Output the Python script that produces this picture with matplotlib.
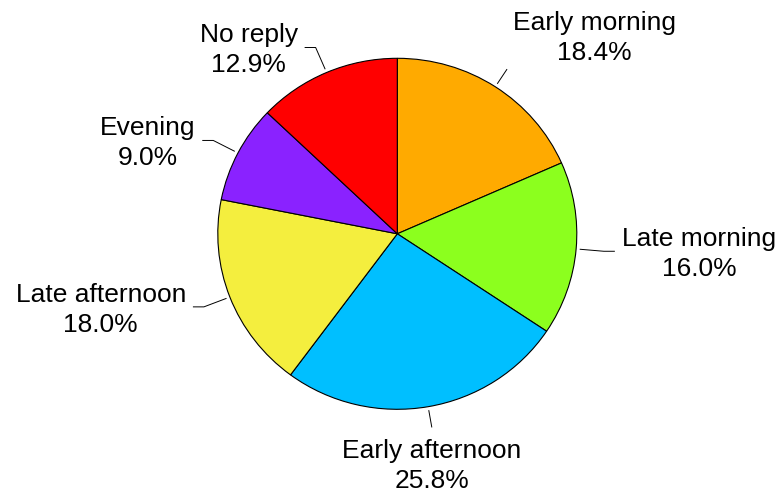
import numpy as np
import matplotlib.pyplot as plt

labels = ["Early morning", "Late morning", "Early afternoon",
          "Late afternoon", "Evening", "No reply"]
shares = [18.4, 16.0, 25.8, 18.0, 9.0, 12.9]
colors = ["#FFAA00", "#8CFF1E", "#00BFFF", "#F4EE3E", "#8A22FF", "#FF0000"]

# how each label sits relative to its leader line
placement = ["above", "side", "below", "side", "side", "side"]

W, H = 781, 495
cx, cy = 397.3, 233.8      # pie centre, px from top-left
rx, ry = 179.5, 175.5      # pie radius in px (slightly squashed)

plt.rcParams["font.family"] = ["Liberation Sans", "DejaVu Sans"]

fig = plt.figure(figsize=(W / 100, H / 100), dpi=100)
ax = fig.add_axes([0, 0, 1, 1])
wedges, _ = ax.pie(shares, colors=colors, startangle=90, counterclock=False,
                   wedgeprops=dict(edgecolor="black", linewidth=0.8))
ax.set_aspect("auto")
ax.set_xlim(-cx / rx, (W - cx) / rx)
ax.set_ylim(-(H - cy) / ry, cy / ry)
ax.axis("off")

total = sum(shares)
for w, lab, val, place in zip(wedges, labels, shares, placement):
    a = np.deg2rad((w.theta1 + w.theta2) / 2)
    ux, uy = np.cos(a), np.sin(a)
    sgn = 1 if ux >= 0 else -1
    r_end = 1.12 if place != "side" else 1.155
    xs = [1.02 * ux, r_end * ux]
    ys = [1.02 * uy, r_end * uy]
    if place == "side":
        xs.append(xs[-1] + sgn * 11 / rx)
        ys.append(ys[-1])
    ax.plot(xs, ys, color="black", lw=0.7, solid_capstyle="butt")
    ex, ey = xs[-1], ys[-1]
    txt = f"{lab}\n{100 * val / total:.1f}%"
    if place == "side":
        ax.text(ex + sgn * 7 / rx, ey - 2.8 / ry, txt,
                ha="left" if sgn > 0 else "right", va="center",
                multialignment="center", fontsize=19, linespacing=1.3)
    elif place == "above":
        ax.text(ex + 6 / rx, ey + 4.5 / ry, txt, ha="left", va="bottom",
                multialignment="center", fontsize=19, linespacing=1.3)
    else:
        ax.text(ex, ey - 11.5 / ry, txt, ha="center", va="top",
                multialignment="center", fontsize=19, linespacing=1.3)

fig.savefig("out.png", dpi=100)
